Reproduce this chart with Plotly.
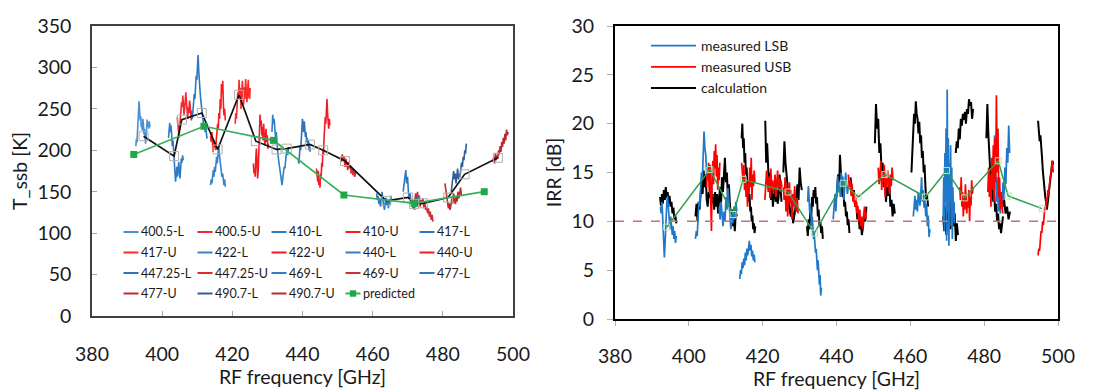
import numpy as np
import plotly.graph_objects as go

FONT = "Lato"

# ---------------- Left panel: T_ssb [K] (each LO sideband: [start GHz, stop GHz] + values) ----------------
f_400_5_L = [392.5, 396.5]
t_400_5_L = [205, 214, 209, 222, 230, 244, 259, 248, 236, 241, 228, 233, 224, 238, 231, 219, 226, 212, 208, 216, 224, 237, 229, 233, 226, 235, 228]
f_400_5_U = [404.3, 408.5]
t_400_5_U = [240, 232, 220, 215, 228, 236, 248, 258, 252, 266, 255, 243, 250, 262, 270, 258, 247, 238, 252, 245, 260, 255, 242, 236, 248]
f_410_L = [401.8, 406.0]
t_410_L = [215, 226, 233, 222, 230, 218, 205, 212, 196, 188, 175, 162, 170, 180, 168, 176, 186, 174, 166, 178, 190, 185, 194, 188]
f_410_U = [413.8, 418.0]
t_410_U = [218, 210, 222, 205, 198, 212, 203, 208, 200, 214, 220, 232, 226, 245, 238, 262, 250, 280, 268, 284, 255, 242, 250, 236]
f_417_L = [408.6, 412.8]
t_417_L = [238, 247, 255, 268, 262, 280, 290, 285, 300, 315, 296, 288, 272, 262, 256, 248, 240, 236, 228, 232, 222, 226, 218, 214]
f_417_U = [420.8, 425.1]
t_417_U = [232, 245, 238, 258, 270, 262, 285, 268, 275, 250, 262, 284, 270, 255, 276, 262, 286, 272, 258, 270, 285, 265, 262, 275]
f_422_L = [413.8, 418.0]
t_422_L = [158, 165, 160, 170, 176, 168, 180, 174, 186, 192, 184, 198, 205, 196, 190, 182, 176, 168, 172, 162, 158, 165, 156]
f_422_U = [426.0, 430.3]
t_422_U = [184, 172, 178, 168, 190, 202, 186, 166, 175, 198, 220, 243, 230, 236, 218, 228, 212, 232, 220, 206, 214, 226, 210, 218, 202, 208]
f_440_L = [431.3, 436.0]
t_440_L = [222, 243, 232, 238, 226, 215, 222, 205, 198, 190, 182, 175, 170, 162, 158, 166, 172, 180, 178, 190, 196, 200, 194, 204]
f_440_U = [444.0, 447.8]
t_440_U = [178, 170, 162, 175, 158, 165, 155, 172, 168, 185, 180, 200, 195, 215, 225, 240, 232, 255, 262, 245, 235, 226, 238, 230]
f_447_25_L = [438.8, 442.2]
t_447_25_L = [188, 184, 195, 205, 200, 218, 226, 238, 230, 222, 235, 228, 216, 222, 210, 215, 205, 212, 200, 206, 198]
f_447_25_U = [451.1, 455.4]
t_447_25_U = [186, 195, 188, 192, 180, 190, 184, 176, 186, 178, 182, 172, 178, 170, 176, 168, 174, 172]
f_469_L = [461.1, 465.4]
t_469_L = [148, 140, 145, 135, 142, 132, 138, 150, 140, 134, 128, 136, 143, 133, 138, 130, 140, 135, 145, 138]
f_469_U = [472.0, 477.2]
t_469_U = [140, 148, 135, 150, 138, 145, 132, 140, 136, 142, 130, 136, 128, 132, 124, 130, 120, 126, 116, 122, 114]
f_477_L = [468.7, 473.4]
t_477_L = [150, 162, 170, 176, 160, 168, 150, 142, 148, 136, 140, 130, 138, 128, 135, 142, 132, 138, 146, 135]
f_477_U = [480.6, 485.3]
t_477_U = [160, 152, 145, 138, 130, 136, 128, 134, 142, 136, 148, 140, 135, 144, 138, 150, 142, 148, 155, 146]
f_490_7_L = [482.4, 486.7]
t_490_7_L = [150, 158, 168, 175, 165, 172, 160, 170, 178, 165, 172, 168, 176, 185, 180, 192, 188, 200, 196, 208]
f_490_7_U = [494.3, 498.6]
t_490_7_U = [186, 192, 184, 196, 188, 194, 190, 200, 195, 205, 198, 210, 204, 215, 208, 220, 212, 225, 218, 222]

# black averaged line (hollow grey squares)
mean_f = [394.7, 403.4, 405.6, 411.3, 415.8, 421.9, 426.7, 432.6, 435.5, 442.1, 445.9, 452.1, 463.9, 470.1, 471.8, 474.4, 481.5, 486.2, 495.7]
mean_t = [217, 193, 237, 245, 201, 267, 211, 201, 202, 207, 200, 187, 139, 143, 135, 136, 143, 171, 191]

# predicted
pred_f = [391.9, 411.9, 431.7, 451.8, 471.8, 491.8]
pred_t = [195, 229, 212, 146, 136, 150]

# ---------------- Right panel: IRR [dB] ----------------
lsb_400_5 = ([392.3, 396.6], [11.5, 10.8, 12, 9.5, 8.2, 6.3, 8, 10.5, 11.8, 12.6, 11, 10, 9.2, 10.5, 9.8, 8.6, 9.5, 8.2, 9, 7.8, 8.5])
lsb_410 = ([401.8, 406.2], [8.2, 9, 8.5, 10.5, 12, 11.5, 13.8, 15, 14.2, 16.5, 19.2, 17.5, 16.8, 15, 14.2, 15.5, 13.5, 12.8, 14, 13])
lsb_417 = ([408.2, 413.0], [11.5, 10.2, 12, 10.8, 9.5, 11, 10, 12.5, 11.2, 13.4, 12, 10.5, 9.2, 10.8, 9.8, 11.5, 10.2, 12, 11])
lsb_422 = ([413.8, 417.9], [4.1, 5, 4.6, 5.8, 5.2, 6.2, 5.5, 6.8, 6, 7.2, 6.5, 7.8, 8, 7, 7.6, 6.4, 7, 6, 6.6, 5.8])
lsb_440 = ([432.2, 435.9], [12, 13.6, 12.5, 11, 11.8, 10.2, 9.5, 10.5, 9, 8.2, 8.8, 7.5, 6.8, 7.2, 5.8, 5, 6, 4.2, 3.5, 4.5, 2.4, 3.2])
lsb_447_25 = ([439.1, 443.2], [10.2, 11.5, 12.8, 11, 13.5, 14.6, 13, 14, 12.5, 15, 13.8, 14.6, 12.2, 13.5, 15, 14, 12.8, 13.6])
lsb_469 = ([460.8, 465.3], [10.5, 11.8, 12.6, 11.2, 12.2, 11, 13, 12.4, 11.6, 12.8, 14.5, 12, 13.2, 11.4, 12.2, 10.5, 11.8, 9.5, 10.6, 8.4, 9.2])
lsb_477 = ([468.9, 472.0], [10, 14.5, 9, 17, 12, 19.5, 8, 23.5, 11, 18.5, 7.5, 16, 12.5, 17.8, 9.5, 15.5, 8.2, 13.5, 10.5, 12, 9.8])
lsb_490_7 = ([481.8, 486.9], [12.5, 14.8, 16.5, 13.2, 18.8, 15.5, 12, 14.5, 11, 13.5, 10.8, 12.5, 11.5, 14, 12.2, 15.5, 13.8, 17.5, 16, 19.8, 17])

usb_400_5 = ([404.8, 408.4], [13.5, 15, 14.2, 16, 13, 15.8, 12, 9, 14.5, 16.2, 13.8, 17.2, 15.4, 17.9, 14.6, 16.8, 13.2, 15.5, 14.2, 16])
usb_410 = ([414.3, 417.9], [16, 15.2, 14, 15.8, 13.2, 14.6, 12.5, 13.8, 11.5, 14.2, 12.8, 15.5, 13.5, 16.5, 12.2, 14.8, 13.6, 15.2, 14])
usb_417 = ([420.6, 425.2], [12.2, 13.8, 15.2, 14, 13, 14.6, 12.4, 15.4, 13.2, 14.2, 12.8, 13.6, 14.8, 12.5, 13.9, 15.2, 13.4, 14.5, 13, 14.2, 13.5])
usb_422 = ([425.6, 429.6], [13.5, 12.2, 14.5, 11, 13.8, 10.5, 12.5, 14, 11.8, 13.2, 10.2, 12.8, 11.5, 13.6, 12, 11, 12.4, 10.8])
usb_440 = ([443.2, 448.1], [14.8, 13.5, 14.2, 12.6, 13.8, 12, 13, 11.5, 12.4, 10.8, 11.6, 10, 11.2, 9.5, 10.5, 9.2, 10.4, 11.5, 10.2, 11])
usb_447_25 = ([451.3, 455.3], [15.5, 13.8, 14.6, 16.2, 13.2, 15, 14, 15.8, 12.5, 14.4, 13.5, 15.2, 14, 12.8, 14.8, 13.6, 15.5, 14.2])
usb_469 = ([473.4, 477.0], [13.5, 12.2, 14.5, 11.5, 13, 10.5, 12.4, 11.2, 13.8, 12, 10.8, 12.6, 11.4, 13.2, 10, 12.5, 11.6, 14.2, 12.8, 13.5])
usb_477 = ([481.0, 485.0], [13, 15.5, 12.5, 14.8, 11.5, 16.5, 13.2, 17.8, 12, 18.5, 14, 22.9, 15, 19.5, 12.5, 14.5, 11.2, 13, 12.2, 10.8])
usb_490_7 = ([494.6, 498.7], [6.5, 7.2, 7, 8.2, 9, 8.8, 10, 9.6, 10.8, 11.5, 11.2, 12.4, 12, 13.2, 12.6, 13.8, 14.5, 14.8, 15.5, 16.2, 15])

calc_01 = ([392.2, 396.6], [12.5, 11.6, 12.8, 11.8, 13.2, 12.2, 13.5, 12.4, 13, 11.8, 12.6, 11.5, 12, 10.8, 11.4, 10.2, 10.6, 9.8])
calc_02 = ([401.8, 406.5], [10.5, 11.8, 10, 12, 11.2, 13.5, 14.2, 12.8, 15.2, 13.5, 14.8, 12.2, 11.5, 13, 12.4, 14, 11.8, 12.8])
calc_03 = ([406.6, 411.1], [12.5, 11.2, 13, 11.5, 12.8, 10.8, 12.2, 13.5, 11.8, 14.5, 13, 15.2, 16.5, 14, 15, 12.5, 13.8, 12])
calc_04 = ([411.1, 413.0], [12, 10.5, 11.2, 9.5, 10.2, 9, 11, 10.5])
calc_05 = ([414.3, 418.0], [18.5, 20, 17.5, 18.5, 16, 17, 14.8, 15.5, 13.5, 14.2, 12, 12.8, 11, 11.5, 10, 10.6, 9.2, 9.8, 8.8, 9.5])
calc_06 = ([420.7, 425.1], [20.3, 16, 18, 14.5, 13.2, 15, 12.2, 13.8, 11.5, 12.8, 14, 12, 13.2, 11.8, 12.5, 14.8, 13, 12])
calc_07 = ([425.6, 430.6], [15, 18.2, 16, 14.5, 13, 12.2, 11, 10.5, 11.8, 9.8, 10.5, 11.2, 12.5, 13.8, 12.2, 15.5, 14, 13.2])
calc_08 = ([432.0, 436.3], [9.5, 8.5, 10.2, 9.2, 11, 10, 12.5, 11.5, 13.2, 12.4, 13.5, 11.8, 12.5, 10.5, 11.2, 9.5, 10, 8.8, 9.5, 8.2])
calc_09 = ([440.0, 443.5], [12.5, 13.5, 14.8, 13, 16.8, 15.2, 14, 12.5, 13.2, 11.5, 12, 10.5, 11, 9.6, 10.2, 8.8])
calc_10 = ([443.8, 448.1], [14.5, 13.5, 12.5, 13.2, 11.5, 12, 10.2, 11, 9.2, 10, 8.6, 9.4, 10.8, 10, 11.5])
calc_11 = ([450.4, 455.8], [18, 22, 19.5, 20.5, 17, 18, 15.2, 16, 13.5, 14.2, 12, 13.5, 12.6, 14, 11.5, 12.2, 10.5, 11.8, 10.8])
calc_12 = ([460.3, 464.8], [15, 17.5, 19.5, 21, 20, 22.3, 21, 20.5, 19, 20.2, 18, 18.8, 16.5, 17.2, 15, 15.8, 13.5, 12.2, 12.8, 11.5])
calc_13 = ([468.9, 472.9], [10.5, 9, 11.5, 8.6, 12, 10, 12.8, 9.2, 11, 10.2, 9.5, 10.8, 8, 9.8, 8.6])
calc_14 = ([472.3, 477.0], [17, 18.2, 17.5, 19.5, 18.4, 20.5, 19.8, 21, 20.4, 21.2, 20, 21.5, 21, 22.5, 21.8, 22.2, 20.5, 21.5])
calc_15 = ([480.6, 485.1], [18.5, 22, 19, 16.5, 15, 13.5, 14.5, 12, 12.8, 11, 11.8, 10, 10.8, 9.2, 9.8, 8.8, 9.6, 10.5])
calc_16 = ([485.0, 487.0], [11.5, 12.2, 10.8, 11.5, 10.2, 11])
calc_17 = ([494.6, 498.7], [20.3, 19.5, 18.2, 18.8, 17, 16.5, 15.2, 14, 13.2, 12.5, 12, 11.2, 11.8, 12.5, 13.2, 14, 14.8, 15.5, 16.2, 15.8])

irr_pred_f = [394.0, 405.7, 412.0, 414.7, 426.9, 434.0, 441.8, 445.9, 453.1, 464.1, 469.8, 474.7, 483.8, 486.5, 495.7]
irr_pred = [9.4, 15.3, 10.7, 14.3, 13.0, 8.8, 13.9, 12.5, 14.8, 12.5, 15.2, 12.4, 16.2, 12.6, 11.3]
irr_limit = 10

# ---------------- helpers ----------------
def seg_xy(rng, vals):
    x = np.linspace(rng[0], rng[1], len(vals))
    return list(x), list(vals)


def joined(segs):
    xs, ys = [], []
    for rng, vals in segs:
        x, y = seg_xy(rng, vals)
        xs += x + [None]
        ys += y + [None]
    return xs, ys


RD = "#ff1a1a"
left_series = [
    ("400.5-L", f_400_5_L, t_400_5_L, "#4a90d0"),
    ("400.5-U", f_400_5_U, t_400_5_U, "#f02830"),
    ("410-L", f_410_L, t_410_L, "#2e7cc6"),
    ("410-U", f_410_U, t_410_U, RD),
    ("417-L", f_417_L, t_417_L, "#2a78c4"),
    ("417-U", f_417_U, t_417_U, "#ff2a2a"),
    ("422-L", f_422_L, t_422_L, "#3384cc"),
    ("422-U", f_422_U, t_422_U, "#f01c22"),
    ("440-L", f_440_L, t_440_L, "#2f80ca"),
    ("440-U", f_440_U, t_440_U, "#ee1e26"),
    ("447.25-L", f_447_25_L, t_447_25_L, "#2e72b8"),
    ("447.25-U", f_447_25_U, t_447_25_U, "#d82c30"),
    ("469-L", f_469_L, t_469_L, "#2f7cc4"),
    ("469-U", f_469_U, t_469_U, "#cc3036"),
    ("477-L", f_477_L, t_477_L, "#2f78c0"),
    ("477-U", f_477_U, t_477_U, "#bf2a30"),
    ("490.7-L", f_490_7_L, t_490_7_L, "#305f98"),
    ("490.7-U", f_490_7_U, t_490_7_U, "#b8282e"),
]
PRED_LINE = "#3aae5a"
PRED_MARK = "#1fa84a"

W, H = 1102, 390
# plot frames (pixels)
L_X0, L_X1, L_Y0, L_Y1 = 84, 505, 18, 308
R_X0, R_X1, R_Y0, R_Y1 = 607, 1050, 18, 311

fig = go.Figure()

for name, rng, vals, col in left_series:
    x, y = seg_xy(rng, vals)
    fig.add_trace(go.Scatter(x=x, y=y, mode="lines", name=name, showlegend=False,
                             line=dict(color=col, width=1.6), xaxis="x", yaxis="y"))

fig.add_trace(go.Scatter(x=mean_f, y=mean_t, mode="lines+markers", showlegend=False, name="mean",
                         line=dict(color="#111111", width=1.7),
                         marker=dict(symbol="square-open", size=9, color="#b0b0b0", line=dict(width=1)),
                         xaxis="x", yaxis="y"))
fig.add_trace(go.Scatter(x=pred_f, y=pred_t, mode="lines+markers", name="predicted", showlegend=False,
                         line=dict(color=PRED_LINE, width=1.7),
                         marker=dict(symbol="square", size=7, color=PRED_MARK),
                         xaxis="x", yaxis="y"))

# left panel legend: 5 columns x 4 rows, short line keys
legend_entries = [(n, c) for n, _, _, c in left_series] + [("predicted", None)]
col_x0, col_pitch, key_len = 115.5, 74.0, 15
row_y = [224, 244.5, 265, 285.5]
for i, (name, col) in enumerate(legend_entries):
    r, c = divmod(i, 5)
    x0 = col_x0 + c * col_pitch
    yy = row_y[r]
    lc = col if col else PRED_LINE
    fig.add_shape(type="line", xref="paper", yref="paper", x0=x0 / W, x1=(x0 + key_len) / W,
                  y0=1 - yy / H, y1=1 - yy / H, line=dict(color=lc, width=2))
    if col is None:
        fig.add_shape(type="rect", xref="paper", yref="paper",
                      x0=(x0 + key_len / 2 - 3.2) / W, x1=(x0 + key_len / 2 + 3.2) / W,
                      y0=1 - (yy + 3.2) / H, y1=1 - (yy - 3.2) / H,
                      line=dict(width=0), fillcolor=PRED_MARK)
    fig.add_annotation(x=(x0 + key_len) / W, y=1 - yy / H, xref="paper", yref="paper",
                       xanchor="left", yanchor="middle", text=name, showarrow=False,
                       font=dict(family=FONT, size=12.5, color="#1a1a1a"))

# right panel
cx, cy = joined([calc_01, calc_02, calc_03, calc_04, calc_05, calc_06, calc_07, calc_08, calc_09,
                 calc_10, calc_11, calc_12, calc_13, calc_14, calc_15, calc_16, calc_17])
lx, ly = joined([lsb_400_5, lsb_410, lsb_417, lsb_422, lsb_440, lsb_447_25, lsb_469, lsb_477, lsb_490_7])
ux, uy = joined([usb_400_5, usb_410, usb_417, usb_422, usb_440, usb_447_25, usb_469, usb_477, usb_490_7])

fig.add_trace(go.Scatter(x=cx, y=cy, mode="lines", name="calculation", legend="legend", legendrank=3,
                         line=dict(color="#000000", width=2.0), connectgaps=False, xaxis="x2", yaxis="y2"))
fig.add_trace(go.Scatter(x=lx, y=ly, mode="lines", name="measured LSB", legend="legend", legendrank=1,
                         line=dict(color="#1f78c8", width=1.7), connectgaps=False, xaxis="x2", yaxis="y2"))
fig.add_trace(go.Scatter(x=ux, y=uy, mode="lines", name="measured USB", legend="legend", legendrank=2,
                         line=dict(color="#ff0000", width=1.7), connectgaps=False, xaxis="x2", yaxis="y2"))
fig.add_trace(go.Scatter(x=irr_pred_f, y=irr_pred, mode="lines+markers", showlegend=False, name="predicted IRR",
                         line=dict(color="#2f9e4f", width=1.5),
                         marker=dict(symbol="square-open", size=6, color="#b8e4b8", line=dict(width=1)),
                         xaxis="x2", yaxis="y2"))

fig.add_shape(type="line", xref="x2 domain", yref="y2", x0=0, x1=1, y0=irr_limit, y1=irr_limit,
              line=dict(color="#c07474", width=1.5, dash="dash"))

tickfont = dict(family=FONT, size=19.5, color="#1a1a1a")
common_ax = dict(showgrid=False, zeroline=False, automargin=False, showline=True, mirror=True)

fig.update_layout(
    width=W, height=H, margin=dict(l=0, r=0, t=0, b=0, autoexpand=False),
    paper_bgcolor="white", plot_bgcolor="white",
    font=dict(family=FONT, size=19.5, color="#1a1a1a"),
    xaxis=dict(domain=[L_X0 / W, L_X1 / W], anchor="y", range=[380, 500], tick0=380, dtick=20,
               ticks="inside", ticklen=5, tickcolor="#a6a6a6",
               linecolor="#404040", linewidth=1.5,
               tickfont=tickfont, ticklabelstandoff=20,
               title=dict(text="RF frequency [GHz]", font=tickfont, standoff=4), **common_ax),
    yaxis=dict(domain=[(H - L_Y1) / H, (H - L_Y0) / H], anchor="x", range=[0, 350], tick0=0, dtick=50,
               ticks="inside", ticklen=5, tickcolor="#a6a6a6",
               linecolor="#404040", linewidth=1.5,
               tickfont=tickfont, ticklabelstandoff=15,
               title=dict(text="T_ssb [K]", font=tickfont, standoff=7), **common_ax),
    xaxis2=dict(domain=[R_X0 / W, R_X1 / W], anchor="y2", range=[380, 500], tick0=380, dtick=20,
                ticks="outside", ticklen=5, tickcolor="#b0b0b0",
                linecolor="#000000", linewidth=2,
                tickfont=tickfont, ticklabelstandoff=14,
                title=dict(text="RF frequency [GHz]", font=tickfont, standoff=4), **common_ax),
    yaxis2=dict(domain=[(H - R_Y1) / H, (H - R_Y0) / H], anchor="x2", range=[0, 30], tick0=0, dtick=5,
                ticks="outside", ticklen=6, tickcolor="#b0b0b0",
                linecolor="#000000", linewidth=2,
                tickfont=tickfont, ticklabelstandoff=9,
                title=dict(text="IRR [dB]", font=tickfont, standoff=5), **common_ax),
    legend=dict(orientation="v", x=638 / W, xanchor="left", y=1 - 22 / H, yanchor="top",
                itemwidth=45, font=dict(family=FONT, size=14, color="#1a1a1a"),
                bgcolor="rgba(0,0,0,0)", borderwidth=0, traceorder="normal"),
)

fig.write_html("out.html")
